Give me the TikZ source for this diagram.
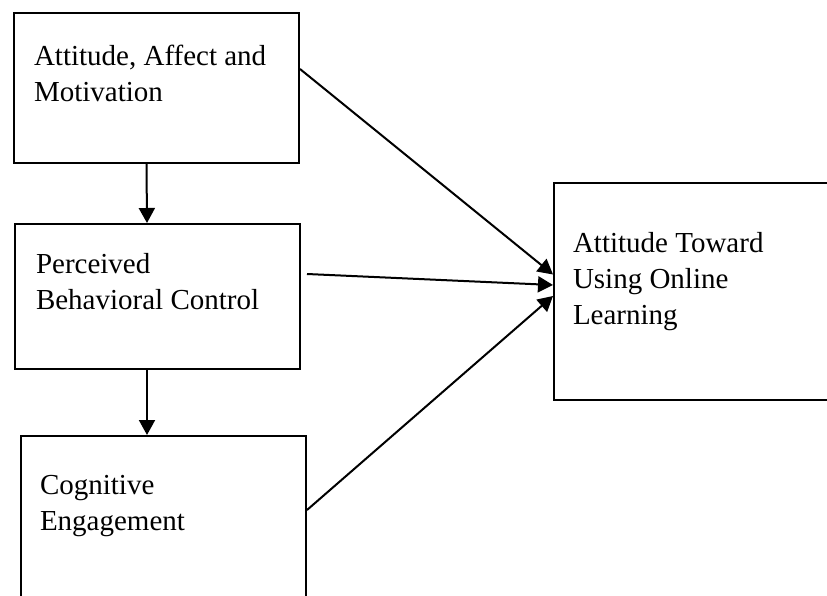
\documentclass[tikz,border=0pt]{standalone}
\usepackage{fontspec}
\setmainfont{Liberation Serif}
\usetikzlibrary{positioning,arrows.meta}

\begin{document}
\begin{tikzpicture}[
    x=1pt, y=-1pt,
    box/.style={rectangle,draw,line width=2pt,anchor=north west,minimum width=285pt},
    boxtext/.style={anchor=north west,inner sep=0pt,outer sep=0pt,align=left,font=\fontsize{29}{36}\selectfont},
    arrow/.style={-{Triangle[length=15pt,width=16pt]},line width=2pt}
]
\useasboundingbox (0,0) rectangle (827,596);

% Predictors
\node[box,minimum height=150pt] (affect) at (13,12) {};
\node[box,minimum height=145pt] (control) at (14,223) {};
\node[box,minimum height=190pt] (engage) at (20,435) {};

% Outcome
\node[box,minimum width=300pt,minimum height=217pt] (attitude) at (553,182) {};

% Texts
\node[boxtext,below right=33pt and 21pt of affect.north west] (affecttext) {Attitude, Affect and\\Motivation};
\node[boxtext,below right=30pt and 22pt of control.north west] (controltext) {Perceived\\Behavioral Control};
\node[boxtext,below right=40pt and 20pt of engage.north west] (engagetext) {Cognitive\\Engagement};
\node[boxtext,below right=50pt and 20pt of attitude.north west] (attitudetext) {Attitude Toward\\Using Online\\Learning};

% Arrows
\draw[arrow] ([xshift=-10pt]affect.south) -- ([xshift=-10.5pt]control.north);
\draw[arrow] ([xshift=-10.5pt]control.south) -- ([xshift=-16.5pt]engage.north);
\draw[arrow] ([yshift=19pt]affect.east) -- ([yshift=17pt]attitude.west);
\draw[arrow] ([xshift=6pt,yshift=22.5pt]control.east) -- ([yshift=6.5pt]attitude.west);
\draw[arrow] ([yshift=21pt]engage.east) -- ([yshift=-4.5pt]attitude.west);

\end{tikzpicture}
\end{document}
